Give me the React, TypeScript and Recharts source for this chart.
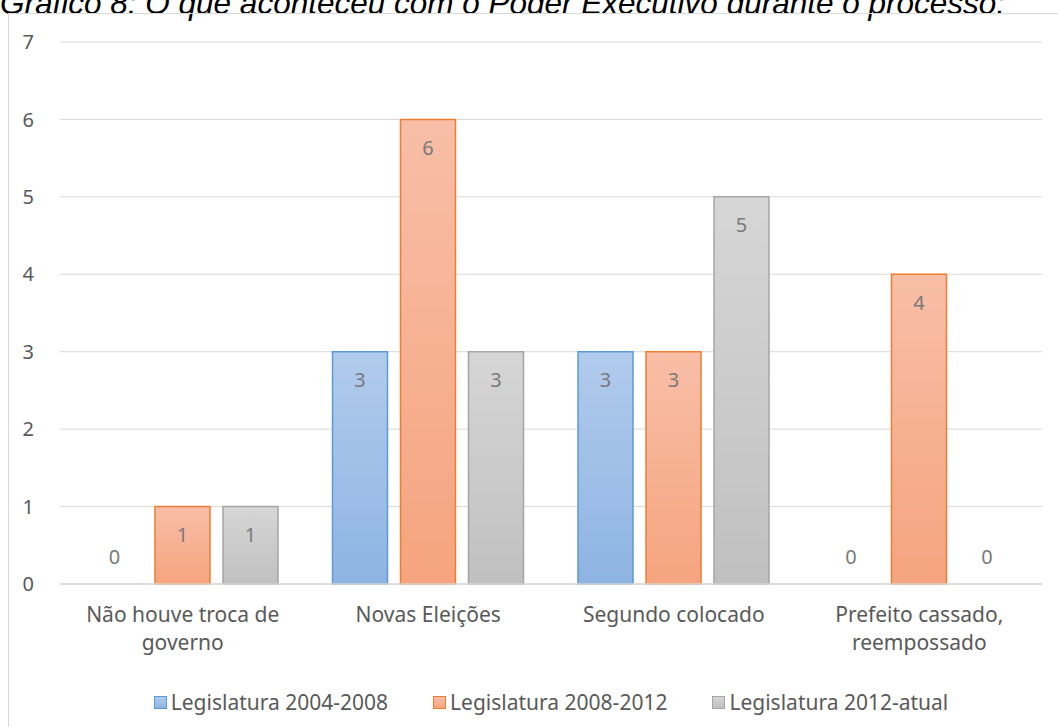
import React from "react";
import {
  BarChart,
  Bar,
  XAxis,
  YAxis,
  CartesianGrid,
  Legend,
  LabelList,
  Rectangle,
} from "recharts";

const categories = [
  "Não houve troca de governo",
  "Novas Eleições",
  "Segundo colocado",
  "Prefeito cassado, reempossado",
];
const leg2004 = [0, 3, 3, 0];
const leg2008 = [1, 6, 3, 4];
const leg2012 = [1, 3, 5, 0];
const yTicks = [0, 1, 2, 3, 4, 5, 6, 7];

const title =
  "Gráfico 8: O que aconteceu com o Poder Executivo durante o processo:";

const FONT = '"Noto Sans", "Open Sans", sans-serif';
const TEXT = "#595959";
const FS = 20;
const FS_CAT = 21;

const series = [
  { key: "a", name: "Legislatura 2004-2008", values: leg2004, stroke: "#5b9bd5", top: "#b1cbec", bottom: "#8eb4e3" },
  { key: "b", name: "Legislatura 2008-2012", values: leg2008, stroke: "#ed7d31", top: "#f8bea7", bottom: "#f5a47e" },
  { key: "c", name: "Legislatura 2012-atual", values: leg2012, stroke: "#a5a5a5", top: "#d6d6d6", bottom: "#c0c0c0" },
];

const data = categories.map((name, i) => ({
  name,
  a: leg2004[i],
  b: leg2008[i],
  c: leg2012[i],
}));

function wrapWords(text: string, max: number) {
  const words = text.split(" ");
  const lines: string[] = [];
  let cur = "";
  words.forEach((w) => {
    const next = cur ? cur + " " + w : w;
    if (next.length > max && cur) {
      lines.push(cur);
      cur = w;
    } else {
      cur = next;
    }
  });
  if (cur) lines.push(cur);
  return lines;
}

const CategoryTick = ({ x, y, payload }: any) => {
  const lines = wrapWords(payload.value, 18);
  return (
    <text x={x} y={y} textAnchor="middle" fill={TEXT} fontSize={FS_CAT} fontFamily={FONT}>
      {lines.map((l, i) => (
        <tspan key={i} x={x} dy={i === 0 ? 30 : 28}>
          {l}
        </tspan>
      ))}
    </text>
  );
};

const renderValueLabel = (props: any) => {
  const { x, y, width, value } = props;
  const cy = value > 0 ? y + 28 : y - 27;
  return (
    <text
      x={x + width / 2}
      y={cy}
      textAnchor="middle"
      dominantBaseline="central"
      fill="#7a7a7a"
      fontSize={FS}
      fontFamily={FONT}
    >
      {value}
    </text>
  );
};

// zero bars get a hair of height so their labels are kept, but draw nothing
const BarShape = (props: any) => {
  if (!props.value) return <g />;
  return <Rectangle {...props} />;
};

const renderLegend = () => (
  <div
    style={{
      display: "flex",
      justifyContent: "center",
      gap: 45,
      fontFamily: FONT,
      fontSize: FS_CAT,
      color: TEXT,
    }}
  >
    {series.map((s) => (
      <div key={s.key} style={{ display: "flex", alignItems: "center" }}>
        <span
          style={{
            width: 11,
            height: 11,
            border: `1.5px solid ${s.stroke}`,
            background: `linear-gradient(${s.top}, ${s.bottom})`,
            marginRight: 4,
          }}
        />
        <span>{s.name}</span>
      </div>
    ))}
  </div>
);

export default function App() {
  return (
    <div
      style={{
        position: "fixed",
        left: 0,
        top: 0,
        width: 1058,
        height: 727,
        overflow: "hidden",
        background: "#fff",
      }}
    >
      <div
        style={{
          position: "absolute",
          left: 0,
          top: -15,
          whiteSpace: "nowrap",
          fontFamily: '"Liberation Sans", Arial, sans-serif',
          fontStyle: "italic",
          fontSize: 31.5,
          lineHeight: "36px",
          color: "#000",
        }}
      >
        {title}
      </div>
      <div
        style={{
          position: "absolute",
          left: 8,
          top: 13,
          width: 1100,
          height: 800,
          border: "1px solid #d9d9d9",
        }}
      />
      <div style={{ position: "absolute", left: 0, top: 0 }}>
        <BarChart
          width={1058}
          height={727}
          data={data}
          margin={{ top: 42, right: 16, bottom: 113, left: 0 }}
          barSize={55}
          barGap={13}
        >
          <defs>
            {series.map((s) => (
              <linearGradient key={s.key} id={`grad-${s.key}`} x1="0" y1="0" x2="0" y2="1">
                <stop offset="0%" stopColor={s.top} />
                <stop offset="100%" stopColor={s.bottom} />
              </linearGradient>
            ))}
          </defs>
          <CartesianGrid vertical={false} stroke="#d9d9d9" strokeWidth={1} />
          <XAxis
            dataKey="name"
            tick={<CategoryTick />}
            tickLine={false}
            axisLine={{ stroke: "#d9d9d9", strokeWidth: 1.5 }}
            interval={0}
            height={30}
          />
          <YAxis
            domain={[0, 7]}
            ticks={yTicks}
            width={60}
            axisLine={false}
            tickLine={false}
            tickMargin={20}
            tick={{ fill: TEXT, fontSize: FS, fontFamily: FONT }}
          />
          <Legend
            verticalAlign="middle"
            layout="horizontal"
            align="center"
            content={renderLegend}
            wrapperStyle={{ top: 688, left: 60, width: 982 }}
          />
          {series.map((s) => (
            <Bar
              key={s.key}
              dataKey={s.key}
              name={s.name}
              fill={`url(#grad-${s.key})`}
              stroke={s.stroke}
              strokeWidth={1.5}
              minPointSize={0.01}
              shape={BarShape}
              isAnimationActive={false}
            >
              <LabelList dataKey={s.key} content={renderValueLabel} />
            </Bar>
          ))}
        </BarChart>
      </div>
    </div>
  );
}
